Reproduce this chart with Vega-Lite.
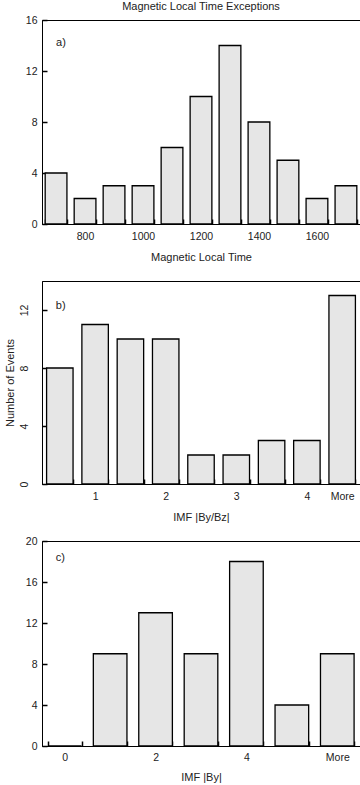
{
  "$schema": "https://vega.github.io/schema/vega-lite/v6.json",
  "background": "white",
  "padding": {"left": 3, "top": 0, "right": 0, "bottom": 0},
  "spacing": 57,
  "bounds": "flush",
  "config": {
    "font": "Liberation Sans",
    "view": {"stroke": "black", "strokeWidth": 1},
    "axis": {
      "labelFont": "Liberation Sans",
      "titleFont": "Liberation Sans",
      "labelFontSize": 10.5,
      "titleFontSize": 11,
      "titleFontWeight": "normal",
      "labelColor": "#222",
      "titleColor": "#222",
      "domainColor": "black",
      "tickColor": "black",
      "grid": false,
      "tickSize": -5,
      "tickWidth": 1.5,
      "labelPadding": 10
    },
    "title": {"font": "Liberation Sans", "fontSize": 11, "fontWeight": "normal", "color": "#222"}
  },
  "vconcat": [
    {
      "title": {"text": "Magnetic Local Time Exceptions", "offset": 3},
      "width": 318,
      "height": 204,
      "layer": [
        {
          "data": {"values": [
            {"mlt": 700, "count": 4}, {"mlt": 800, "count": 2}, {"mlt": 900, "count": 3},
            {"mlt": 1000, "count": 3}, {"mlt": 1100, "count": 6}, {"mlt": 1200, "count": 10},
            {"mlt": 1300, "count": 14}, {"mlt": 1400, "count": 8}, {"mlt": 1500, "count": 5},
            {"mlt": 1600, "count": 2}, {"mlt": 1700, "count": 3}
          ]},
          "mark": {"type": "bar", "fill": "#e6e6e6", "stroke": "black", "strokeWidth": 1.3},
          "encoding": {
            "x": {"field": "mlt", "type": "ordinal", "title": "Magnetic Local Time",
              "scale": {"paddingInner": 0.25, "paddingOuter": 0.11},
              "axis": {"labelAngle": 0, "tickBand": "extent", "labelPadding": 12, "labelExpr": "datum.value % 200 == 0 ? datum.label : ''", "titlePadding": 10}},
            "y": {"field": "count", "type": "quantitative", "title": null,
              "scale": {"domain": [0, 16], "nice": false},
              "axis": {"values": [0, 2, 4, 6, 8, 10, 12, 14, 16], "labelExpr": "datum.value % 4 == 0 ? datum.label : ''"}}
          }
        },
        {
          "data": {"values": [{"mlt": 700, "count": 14.2, "tag": "a)"}]},
          "mark": {"type": "text", "align": "left", "fontSize": 11, "color": "#222"},
          "encoding": {
            "x": {"field": "mlt", "type": "ordinal"},
            "y": {"field": "count", "type": "quantitative"},
            "text": {"field": "tag"}
          }
        }
      ]
    },
    {
      "width": 318,
      "height": 203,
      "layer": [
        {
          "data": {"values": [
            {"ratio": "0.5", "count": 8}, {"ratio": "1", "count": 11}, {"ratio": "1.5", "count": 10},
            {"ratio": "2", "count": 10}, {"ratio": "2.5", "count": 2}, {"ratio": "3", "count": 2},
            {"ratio": "3.5", "count": 3}, {"ratio": "4", "count": 3}, {"ratio": "More", "count": 13}
          ]},
          "mark": {"type": "bar", "fill": "#e6e6e6", "stroke": "black", "strokeWidth": 1.3},
          "encoding": {
            "x": {"field": "ratio", "type": "ordinal", "title": "IMF |By/Bz|",
              "sort": ["0.5", "1", "1.5", "2", "2.5", "3", "3.5", "4", "More"],
              "scale": {"paddingInner": 0.25, "paddingOuter": 0.13},
              "axis": {"labelAngle": 0, "tickBand": "extent", "labelPadding": 12, "labelExpr": "indexof(['1','2','3','4','More'], datum.value) >= 0 ? datum.label : ''", "titlePadding": 10}},
            "y": {"field": "count", "type": "quantitative", "title": "Number of Events",
              "scale": {"domain": [0, 14], "nice": false},
              "axis": {"values": [0, 2, 4, 6, 8, 10, 12, 14], "labelExpr": "datum.value % 4 == 0 ? datum.label : ''", "labelAngle": -90, "labelAlign": "center", "labelBaseline": "bottom", "labelPadding": 18, "titlePadding": 4}}
          }
        },
        {
          "data": {"values": [{"ratio": "0.5", "count": 12.3, "tag": "b)"}]},
          "mark": {"type": "text", "align": "left", "dx": -4, "fontSize": 11, "color": "#222"},
          "encoding": {
            "x": {"field": "ratio", "type": "ordinal", "sort": ["0.5", "1", "1.5", "2", "2.5", "3", "3.5", "4", "More"]},
            "y": {"field": "count", "type": "quantitative"},
            "text": {"field": "tag"}
          }
        }
      ]
    },
    {
      "width": 318,
      "height": 205,
      "layer": [
        {
          "data": {"values": [
            {"by": "0", "count": 0}, {"by": "1", "count": 9}, {"by": "2", "count": 13},
            {"by": "3", "count": 9}, {"by": "4", "count": 18}, {"by": "5", "count": 4},
            {"by": "More", "count": 9}
          ]},
          "mark": {"type": "bar", "fill": "#e6e6e6", "stroke": "black", "strokeWidth": 1.3},
          "encoding": {
            "x": {"field": "by", "type": "ordinal", "title": "IMF |By|",
              "sort": ["0", "1", "2", "3", "4", "5", "More"],
              "scale": {"paddingInner": 0.26, "paddingOuter": 0.13},
              "axis": {"labelAngle": 0, "tickBand": "extent", "labelPadding": 11, "labelExpr": "indexof(['0','2','4','More'], datum.value) >= 0 ? datum.label : ''", "titlePadding": 9}},
            "y": {"field": "count", "type": "quantitative", "title": null,
              "scale": {"domain": [0, 20], "nice": false},
              "axis": {"values": [0, 2, 4, 6, 8, 10, 12, 14, 16, 18, 20], "labelExpr": "datum.value % 4 == 0 ? datum.label : ''"}}
          }
        },
        {
          "data": {"values": [{"by": "0", "count": 18.3, "tag": "c)"}]},
          "mark": {"type": "text", "align": "left", "dx": -9, "fontSize": 11, "color": "#222"},
          "encoding": {
            "x": {"field": "by", "type": "ordinal", "sort": ["0", "1", "2", "3", "4", "5", "More"]},
            "y": {"field": "count", "type": "quantitative"},
            "text": {"field": "tag"}
          }
        }
      ]
    }
  ]
}
